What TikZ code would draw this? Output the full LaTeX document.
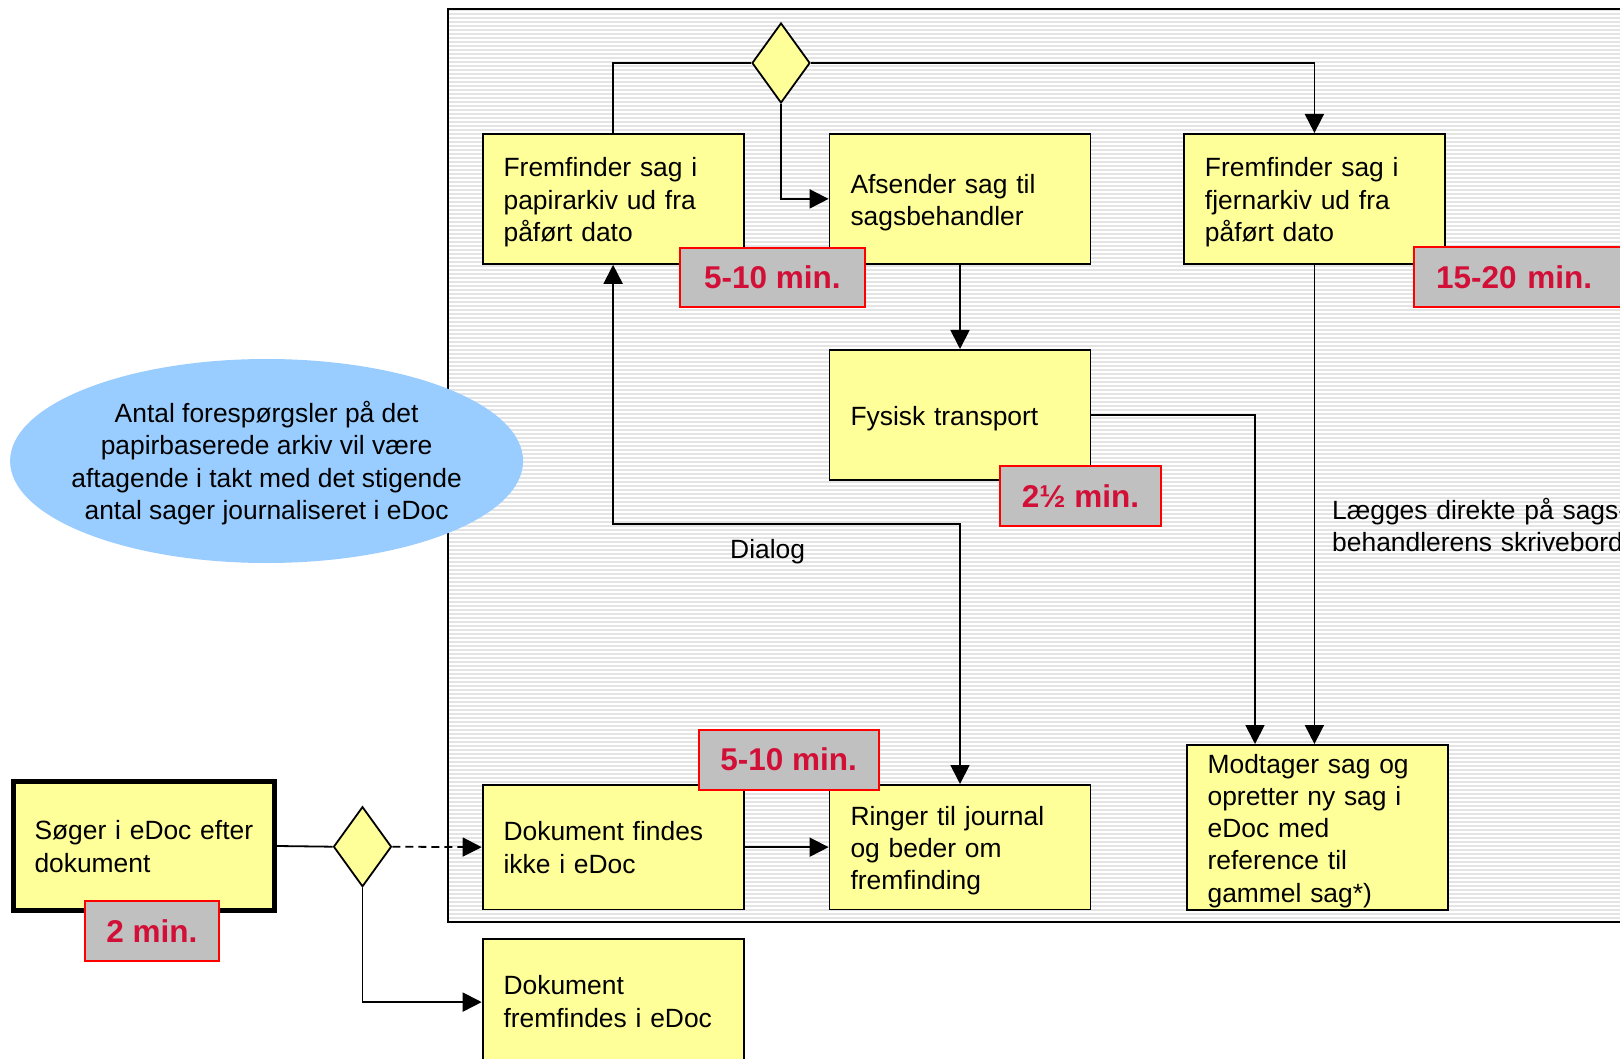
\documentclass[tikz,border=0pt]{standalone}
\usepackage{fontspec}
\setmainfont{Liberation Sans}
\usetikzlibrary{arrows.meta,shapes.geometric}
\definecolor{boxyellow}{RGB}{255,255,153}
\definecolor{ellblue}{RGB}{153,204,255}
\definecolor{labgray}{RGB}{192,192,192}
\definecolor{labred}{RGB}{210,15,55}
\definecolor{panelgray}{RGB}{228,228,228}
\newcommand\boxfont{\fontsize{26.4}{32.3}\selectfont}
\newcommand\labfont{\fontsize{31.5}{36}\selectfont\bfseries}
\tikzset{
  flowbox/.style={draw=black, fill=boxyellow, line width=1.8pt, inner xsep=21pt, inner ysep=0pt,
    align=left, font=\boxfont, anchor=north west, text width=219pt, minimum width=261pt,
    text height=26pt},
  timelab/.style={draw=red, fill=labgray, line width=2pt, text=labred, font=\labfont,
    inner sep=0pt, anchor=north west, align=center},
  decision/.style={diamond, draw=black, fill=boxyellow, line width=1.8pt, inner sep=0pt,
    minimum width=58pt, minimum height=80pt},
  conn/.style={draw=black, line width=1.8pt},
  arr/.style={conn, -{Triangle[length=19pt,width=19pt]}},
  dblarr/.style={conn, {Triangle[length=19pt,width=19pt]}-{Triangle[length=19pt,width=19pt]}},
  plaintext/.style={font=\boxfont, inner sep=0pt}
}
\begin{document}
\begin{tikzpicture}[x=1pt,y=-1pt]
\useasboundingbox (0,0) rectangle (1620,1059);
\clip (0,0) rectangle (1620,1059);
\fill[white] (0,0) rectangle (1620,1059);
% striped panel
\fill[panelgray] (448,9.5) rectangle (1650,921.7);
\foreach \yy in {12,16,...,920} \draw[white, line width=1.3pt] (449,\yy) -- (1650,\yy);
\draw[line width=2pt] (1650,9.5) -- (448,9.5) -- (448,921.7) -- (1650,921.7);

% ellipse note
\node[ellipse, fill=ellblue, minimum width=513pt, minimum height=204pt, inner sep=0pt] (note) at (266.6,461) {};
\node[plaintext, align=center] (notetext) at ([yshift=-2pt]note.center)
  {Antal forespørgsler på det\\papirbaserede arkiv vil være\\aftagende i takt med det stigende\\antal sager journaliseret i eDoc};

% boxes
\node[flowbox, minimum height=130pt] (pap) at (481.7,133) {Fremfinder sag i\\papirarkiv ud fra\\påført dato};
\node[flowbox, minimum height=130pt] (afs) at (828.6,133) {Afsender sag til\\sagsbehandler};
\node[flowbox, minimum height=130pt] (fjern) at (1183,133) {Fremfinder sag i\\fjernarkiv ud fra\\påført dato};
\node[flowbox, minimum height=130pt] (fys) at (828.6,349) {Fysisk transport};
\node[flowbox, minimum height=165pt] (modt) at (1185.7,744) {Modtager sag og\\opretter ny sag i\\eDoc med\\reference til\\gammel sag*)};
\node[flowbox, minimum height=124.5pt, text height=20pt] (ikke) at (481.7,784) {Dokument findes\\ikke i eDoc};
\node[flowbox, minimum height=124.5pt] (ring) at (828.6,784) {Ringer til journal\\og beder om\\fremfinding};
\node[flowbox, minimum height=127pt, text height=18pt] (frem) at (481.7,937.7) {Dokument\\fremfindes i eDoc};
\node[flowbox, line width=5pt, minimum width=260pt, minimum height=129pt, text height=20pt] (soeg) at (11,779) {Søger i eDoc efter\\dokument};

% decisions
\node[decision] (d1) at (781,63) {};
\node[decision] (d2) at (362.5,846.7) {};

% connectors
\coordinate (dlg) at (612.3,524);
\coordinate (mA) at (1255,744);
\draw[conn] (d1.west) -| (pap.north);
\draw[arr] (d1.east) -| (fjern.north);
\draw[arr] (d1.south) |- (afs.west);
\draw[arr] (afs.south) -- (fys.north);
\draw[arr] (fys.east) -| (mA);
\draw[arr] (fjern.south) -- (fjern.south |- modt.north);
\draw[dblarr] (pap.south) -- (pap.south |- dlg) -| (ring.north);
\draw[arr] (ikke.east) -- (ring.west);
\draw[conn] (soeg.east) -- (d2.west);
\draw[arr, dash pattern=on 8pt off 5pt] (d2.east) -- (ikke.west);
\draw[arr] (d2.south) |- (frem.west);

% free labels
\node[plaintext, anchor=base west] (dialog) at (730,558.5) {Dialog};
\node[plaintext, anchor=base west, align=left, text width=300pt] (laegges) at (1332,519.5)
  {Lægges direkte på sags-\\behandlerens skrivebord};

% time labels
\node[timelab, minimum width=185pt, minimum height=59pt] (t1) at (679,246.7) {5-10 min.};
\node[timelab, minimum width=230pt, minimum height=60pt, align=left, text width=185pt, inner xsep=21pt] (t2) at (1412.7,246) {15-20 min.};
\node[timelab, minimum width=161pt, minimum height=60pt] (t3) at (999,464.7) {2½ min.};
\node[timelab, minimum width=180pt, minimum height=60pt] (t4) at (697.7,728.7) {5-10 min.};
\node[timelab, minimum width=134pt, minimum height=60pt] (t5) at (84,900) {2 min.};
\end{tikzpicture}
\end{document}
